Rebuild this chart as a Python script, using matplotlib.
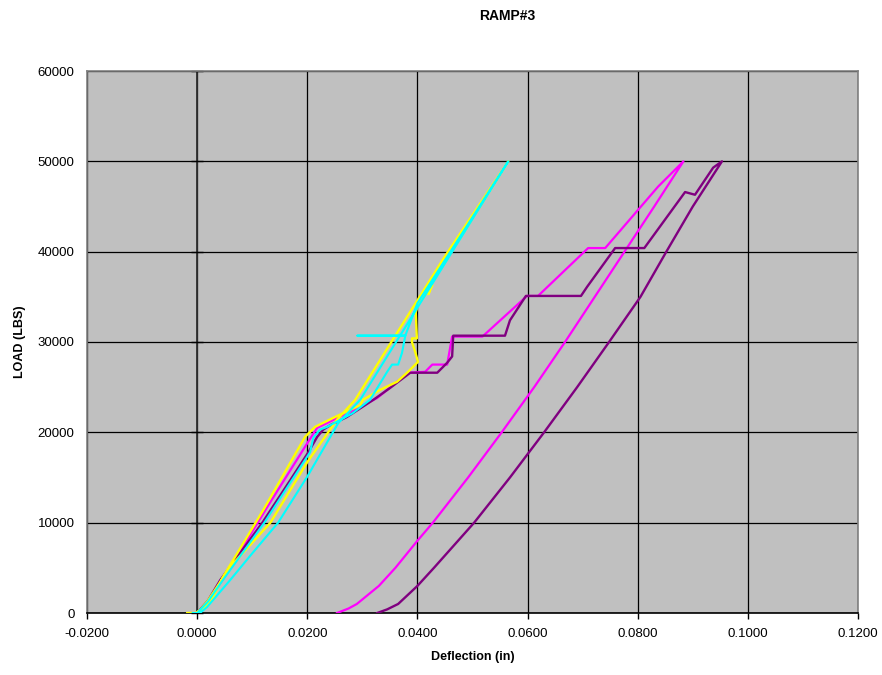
import matplotlib
matplotlib.use("Agg")
import matplotlib.pyplot as plt
import numpy as np

plt.rcParams['font.family'] = ['Liberation Sans', 'DejaVu Sans']

# Deflection (in) / Load (lbs) for each run: load branch followed by unload branch
yellow_x = [-0.0018, -0.0003, 0.0015, 0.0029, 0.0047, 0.0120, 0.0196, 0.0214, 0.0247, 0.0296, 0.0301,
            0.0332, 0.0363, 0.0383, 0.0401, 0.0396, 0.0390, 0.0390, 0.0399, 0.0397, 0.0401,
            0.0427, 0.0420, 0.0426, 0.0565,
            0.0448, 0.0287, 0.0254, 0.0200, 0.0133, 0.0060, 0.0020, 0.0005, 0.0000]
yellow_y = [0, 0, 700, 1800, 4000, 11400, 19500, 20600, 21600, 23000, 23600,
            24700, 25600, 26700, 27800, 28900, 30000, 30400, 30400, 33300, 34100,
            36300, 35300, 36500, 50000,
            39300, 23600, 21400, 16700, 10000, 5100, 1400, 300, 0]

cyan_x = [-0.0008, 0.0000, 0.0020, 0.0045, 0.0122, 0.0205, 0.0211, 0.0223, 0.0236, 0.0282, 0.0314,
          0.0345, 0.0354, 0.0365, 0.0372, 0.0378, 0.0291, 0.0378, 0.0400, 0.0565,
          0.0454, 0.0296, 0.0256, 0.0200, 0.0147, 0.0100, 0.0060, 0.0018, 0.0005]
cyan_y = [0, 0, 1300, 3500, 10000, 17800, 19400, 20300, 20600, 22100, 23600,
          26700, 27500, 27500, 28800, 30700, 30700, 30700, 34300, 50000,
          39100, 23600, 21000, 15100, 10000, 6600, 3650, 660, 0]

magenta_x = [0.0000, 0.0020, 0.0054, 0.0127, 0.0200, 0.0218, 0.0272, 0.0327, 0.0383, 0.0414, 0.0427,
             0.0454, 0.0463, 0.0518, 0.0599, 0.0619, 0.0710, 0.0741, 0.0837, 0.0883,
             0.0830, 0.0776, 0.0722, 0.0668, 0.0612, 0.0553, 0.0492, 0.0428, 0.0400,
             0.0360, 0.0330, 0.0290, 0.0275, 0.0254]
magenta_y = [0, 1300, 4400, 11700, 18800, 20500, 22100, 23800, 26600, 26700, 27500,
             27500, 30600, 30600, 35100, 35100, 40400, 40400, 47200, 50000,
             45000, 40000, 35000, 30000, 25000, 20000, 15000, 10000, 8000,
             5000, 3000, 1000, 500, 0]

purple_x = [0.0000, 0.0020, 0.0042, 0.0118, 0.0169, 0.0202, 0.0218, 0.0229, 0.0242, 0.0272, 0.0320,
            0.0350, 0.0387, 0.0436, 0.0454, 0.0463, 0.0465, 0.0559, 0.0568, 0.0597, 0.0697,
            0.0708, 0.0759, 0.0812, 0.0886, 0.0904, 0.0937, 0.0953,
            0.0900, 0.0852, 0.0805, 0.0748, 0.0690, 0.0630, 0.0568, 0.0503, 0.0430,
            0.0400, 0.0365, 0.0345, 0.0327]
purple_y = [0, 1400, 3650, 9960, 14700, 17800, 19500, 20300, 20800, 21700, 23600,
            24900, 26600, 26600, 27700, 28400, 30700, 30700, 32400, 35100, 35100,
            36100, 40400, 40400, 46600, 46300, 49300, 50000,
            45000, 40000, 35000, 30000, 25000, 20000, 15000, 10000, 5000,
            3000, 1000, 400, 0]

x_ticks = np.arange(-0.02, 0.1201, 0.02)
y_ticks = np.arange(0, 60001, 10000)

fig = plt.figure(figsize=(8.82, 6.75), dpi=100)
ax = fig.add_axes([87 / 882, 62 / 675, 771 / 882, 542 / 675])
ax.set_facecolor('#C0C0C0')

ax.plot(magenta_x, magenta_y, color='#FF00FF', lw=1.6, zorder=3)
ax.plot(purple_x, purple_y, color='#800080', lw=1.7, zorder=3)
ax.plot(yellow_x, yellow_y, color='#FFFF00', lw=1.7, zorder=3)
ax.plot(cyan_x, cyan_y, color='#00FFFF', lw=1.5, zorder=3)

ax.set_xlim(-0.02, 0.12)
ax.set_ylim(0, 60000)
ax.set_xticks(x_ticks)
ax.set_yticks(y_ticks)
ax.set_xticklabels([f"{v:.4f}" for v in x_ticks])
ax.set_yticklabels([f"{int(v)}" for v in y_ticks])
ax.grid(True, color='black', lw=0.9, zorder=1)
ax.set_axisbelow(True)

# value axis crosses at x = 0
ax.axvline(0, color='#303030', lw=1.3, zorder=2)
ax.plot(np.zeros(len(y_ticks)), y_ticks, ls='none', marker='_', ms=8, color='black',
        mew=1, zorder=2, clip_on=False)

for s in ['left', 'top', 'right']:
    ax.spines[s].set_color('#808080')
    ax.spines[s].set_linewidth(1.2)
ax.spines['bottom'].set_color('black')
ax.spines['bottom'].set_linewidth(1.2)

ax.tick_params(axis='x', direction='out', length=4, width=1, pad=7, labelsize=9.5)
ax.tick_params(axis='y', length=0, pad=9, labelsize=9.5)

ax.set_xlabel("Deflection (in)", fontsize=9, fontweight='bold', labelpad=8)
ax.set_ylabel("LOAD (LBS)", fontsize=9, fontweight='bold', labelpad=8)
fig.text(507 / 882, 1 - 16 / 675, "RAMP#3", fontsize=10, fontweight='bold',
         ha='center', va='center')

fig.savefig("out.png", dpi=100)
